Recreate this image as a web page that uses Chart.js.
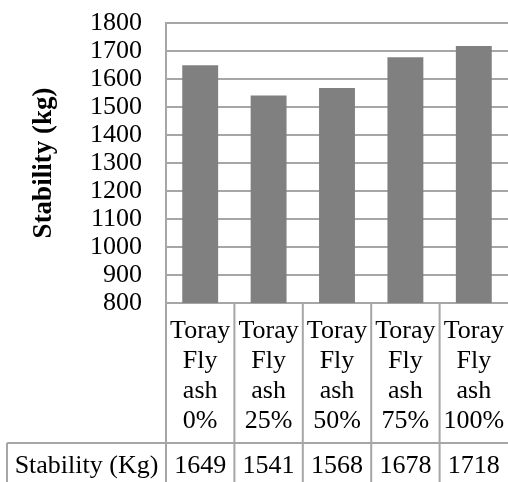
<!DOCTYPE html>
<html>
<head>
<meta charset="utf-8">
<script src="https://cdn.jsdelivr.net/npm/chart.js@4"></script>
<style>
  html, body { margin: 0; padding: 0; background: #fff; }
  canvas { display: block; }
</style>
</head>
<body>
<canvas id="chart" width="508" height="482"></canvas>
<script>
// Données du graphique
const categories = [
  ['Toray', 'Fly', 'ash', '0%'],
  ['Toray', 'Fly', 'ash', '25%'],
  ['Toray', 'Fly', 'ash', '50%'],
  ['Toray', 'Fly', 'ash', '75%'],
  ['Toray', 'Fly', 'ash', '100%'],
];
const stability = [1649, 1541, 1568, 1678, 1718];
const seriesName = 'Stability (Kg)';
const axisTitle = 'Stability (kg)';
const yMin = 800, yMax = 1800, yStep = 100;

const serif = "'Liberation Serif', 'Times New Roman', serif";
const lineColor = '#a6a6a6';

// Tableau de données sous l'axe X
const dataTable = {
  id: 'dataTable',
  afterDraw(chart) {
    const { ctx, chartArea, scales: { x } } = chart;
    const top = x.bottom;
    const bottom = chart.height;
    const half = (x.getPixelForValue(1) - x.getPixelForValue(0)) / 2;
    const rowLeft = 7;

    ctx.save();
    ctx.strokeStyle = lineColor;
    ctx.lineWidth = 2;

    // lignes verticales entre les catégories
    ctx.beginPath();
    ctx.moveTo(chartArea.left, chartArea.bottom);
    ctx.lineTo(chartArea.left, bottom);
    for (let i = 0; i < categories.length - 1; i++) {
      const px = x.getPixelForValue(i) + half;
      ctx.moveTo(px, chartArea.bottom);
      ctx.lineTo(px, bottom);
    }
    // bordure gauche et haut de la ligne
    ctx.moveTo(rowLeft, top);
    ctx.lineTo(rowLeft, bottom);
    ctx.moveTo(rowLeft, top);
    ctx.lineTo(chart.width, top);
    ctx.stroke();

    // textes
    ctx.fillStyle = '#000';
    ctx.font = `26px ${serif}`;
    ctx.textAlign = 'center';
    ctx.textBaseline = 'alphabetic';
    const ty = top + 30;
    ctx.fillText(seriesName, (rowLeft + chartArea.left) / 2, ty);
    stability.forEach((v, i) => {
      ctx.fillText(String(v), x.getPixelForValue(i), ty);
    });
    ctx.restore();
  }
};

new Chart(document.getElementById('chart'), {
  type: 'bar',
  data: {
    labels: categories,
    datasets: [{
      label: seriesName,
      data: stability,
      backgroundColor: '#808080',
      borderWidth: 0,
      barPercentage: 0.525,
      categoryPercentage: 1,
    }],
  },
  options: {
    responsive: false,
    animation: false,
    devicePixelRatio: 1,
    layout: { padding: { left: 0, right: 0, top: 23, bottom: 39 } },
    plugins: {
      legend: { display: false },
      tooltip: { enabled: false },
    },
    scales: {
      x: {
        grid: { display: false },
        border: { display: true, color: lineColor, width: 2 },
        ticks: {
          color: '#000',
          font: { family: serif, size: 26, lineHeight: 1.16 },
          padding: 5,
          maxRotation: 0,
          autoSkip: false,
        },
        afterFit(scale) {
          scale.height = 140;
          scale.paddingLeft = 0;
          scale.paddingRight = 0;
        },
      },
      y: {
        min: yMin,
        max: yMax,
        grid: { color: lineColor, lineWidth: 2, drawTicks: false },
        border: { display: true, color: lineColor, width: 2 },
        ticks: {
          stepSize: yStep,
          autoSkip: false,
          callback: (v) => String(v),
          color: '#000',
          font: { family: serif, size: 26 },
          padding: 24,
        },
        title: {
          display: true,
          text: axisTitle,
          color: '#000',
          font: { family: serif, size: 27, weight: 'bold', lineHeight: 1.2 },
          padding: { top: 28, bottom: 0 },
        },
        afterFit(scale) {
          scale.width = 166;
          scale.paddingTop = 0;
          scale.paddingBottom = 0;
        },
      },
    },
  },
  plugins: [dataTable],
});
</script>
</body>
</html>
